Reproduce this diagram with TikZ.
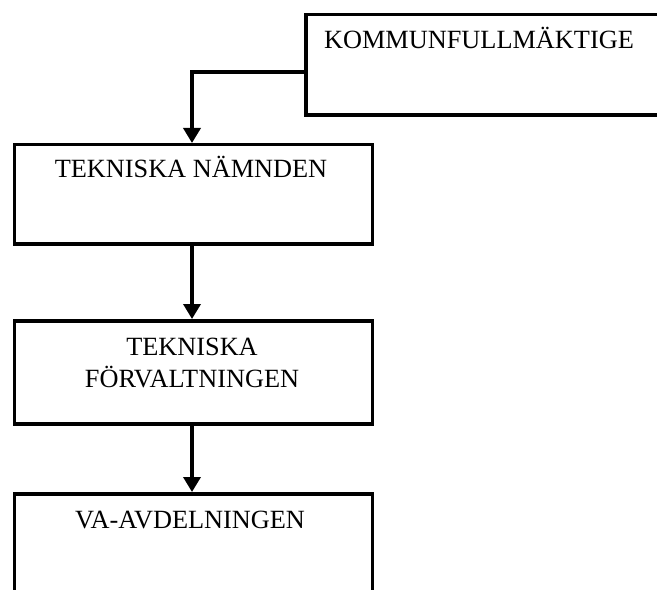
\documentclass[tikz,border=0pt]{standalone}
\usepackage{fontspec}
\setmainfont{Liberation Serif}
\usetikzlibrary{arrows.meta}
\begin{document}
\begin{tikzpicture}[x=1bp,y=-1bp,
  box/.style={draw=black, line width=3.5bp, fill=white},
  lbl/.style={inner sep=0pt, font=\fontsize{26.3bp}{32bp}\selectfont, align=center, anchor=base},
  conn/.style={line width=3.5bp, -{Triangle[width=17bp,length=15bp]}}]
\useasboundingbox (0,0) rectangle (657,590);
% boxes
\node[box, minimum width=366bp, minimum height=100bp, anchor=north west, inner sep=0pt] (kf) at (304,13) {};
\node[box, minimum width=358bp, minimum height=99bp, anchor=north west, inner sep=0pt] (tn) at (12.5,143) {};
\node[box, minimum width=358bp, minimum height=103bp, anchor=north west, inner sep=0pt] (tf) at (12.5,319) {};
\node[box, minimum width=358bp, minimum height=110bp, anchor=north west, inner sep=0pt] (va) at (12.5,492) {};
% labels
\node[lbl] (kft) at (479,49) {KOMMUNFULLMÄKTIGE};
\node[lbl] (tnt) at (191,178) {TEKNISKA NÄMNDEN};
\node[lbl] (tft1) at (192,355) {TEKNISKA};
\node[lbl] (tft2) at (192,387) {FÖRVALTNINGEN};
\node[lbl] (vat) at (190,528) {VA-AVDELNINGEN};
% connectors
\coordinate (kfl) at (kf.west |- 0,72);
\coordinate (bend) at (192,72);
\draw[conn] (kfl) -- (bend) -- (bend |- tn.north);
\draw[conn] (192,0 |- tn.south) -- (192,0 |- tf.north);
\draw[conn] (192,0 |- tf.south) -- (192,0 |- va.north);
\end{tikzpicture}
\end{document}
